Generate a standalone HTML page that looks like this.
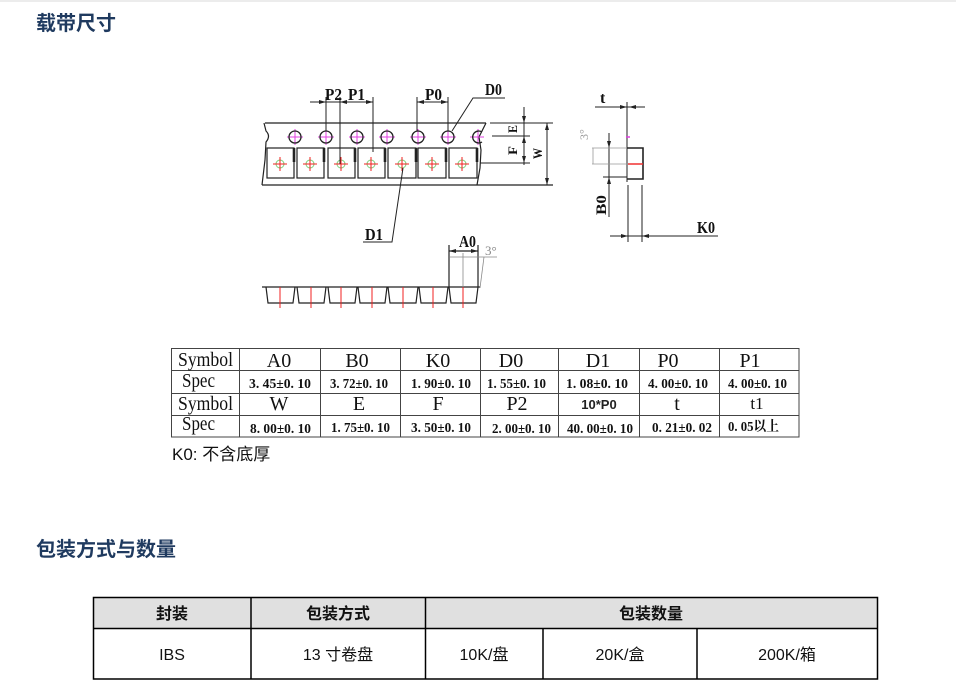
<!DOCTYPE html>
<html><head><meta charset="utf-8">
<style>
html,body{margin:0;padding:0;background:#fff;}
body{width:956px;height:689px;overflow:hidden;position:relative;}
svg{position:absolute;left:0;top:0;}
</style></head><body>
<svg width="956" height="689" viewBox="0 0 956 689" xmlns="http://www.w3.org/2000/svg">
<rect x="0" y="0" width="956" height="2" fill="#ececec"/>
<text x="36" y="30" font-family="Liberation Sans, Noto Sans CJK SC, sans-serif" font-size="20" font-weight="bold" fill="#1f3a5f">载带尺寸</text>

<!-- ===== top tape ===== -->
<g fill="none" stroke="#222" stroke-width="1.2">
  <line x1="265" y1="123" x2="486" y2="123"/>
  <path d="M264,123 L266,131 Q271,136 266,142 L265,160 L262,185"/>
  <line x1="262" y1="185" x2="553" y2="185"/>
  <polyline points="486,123 479,137 481,150 480,168 477,185"/>
  <rect x="267" y="148" width="27" height="30"/>
  <rect x="297" y="148" width="27" height="30"/>
  <rect x="328" y="148" width="27" height="30"/>
  <rect x="358" y="148" width="27" height="30"/>
  <rect x="388" y="148" width="28" height="30"/>
  <rect x="418" y="148" width="28" height="30"/>
  <rect x="449" y="148" width="28" height="30"/>
</g>
<g stroke="#222" stroke-width="2.6">
  <line x1="294" y1="148" x2="294" y2="162"/>
  <line x1="324" y1="148" x2="324" y2="162"/>
  <line x1="355" y1="148" x2="355" y2="162"/>
  <line x1="385" y1="148" x2="385" y2="162"/>
  <line x1="416" y1="148" x2="416" y2="162"/>
  <line x1="446" y1="148" x2="446" y2="162"/>
  <line x1="477" y1="148" x2="477" y2="162"/>
</g>
<g stroke="#e040e0" stroke-width="1">
  <path d="M287,137h16M295,129v16 M318,137h16M326,129v16 M349,137h16M357,129v16 M379,137h16M387,129v16 M410,137h16M418,129v16 M440,137h16M448,129v16 M470,137h14M478,129v16"/>
</g>
<g fill="none" stroke="#222" stroke-width="1.3">
  <circle cx="295" cy="137" r="6"/>
  <circle cx="326" cy="137" r="6"/>
  <circle cx="357" cy="137" r="6"/>
  <circle cx="387" cy="137" r="6"/>
  <circle cx="418" cy="137" r="6"/>
  <circle cx="448" cy="137" r="6"/>
  <path d="M482,132 A6,6 0 1 0 482,142"/>
</g>
<g fill="none" stroke="#7ccf7c" stroke-width="1">
  <circle cx="280" cy="164" r="4"/><circle cx="310" cy="164" r="4"/><circle cx="341" cy="164" r="4"/>
  <circle cx="371" cy="164" r="4"/><circle cx="402" cy="164" r="4"/><circle cx="432" cy="164" r="4"/><circle cx="462" cy="164" r="4"/>
</g>
<g stroke="#f02020" stroke-width="1">
  <path d="M273,164h14M280,157v14 M303,164h14M310,157v14 M334,164h14M341,157v14 M364,164h14M371,157v14 M395,164h14M402,157v14 M425,164h14M432,157v14 M455,164h14M462,157v14"/>
</g>

<g stroke="#222" stroke-width="1" fill="none">
  <line x1="310" y1="102" x2="373" y2="102"/>
  <line x1="326" y1="97" x2="326" y2="131"/>
  <line x1="340" y1="97" x2="340" y2="164"/>
  <line x1="373" y1="97" x2="373" y2="152"/>
  <line x1="417" y1="102" x2="448" y2="102"/>
  <line x1="417" y1="97" x2="417" y2="131"/>
  <line x1="448" y1="97" x2="448" y2="131"/>
  <polyline points="505,98 473,98 452,131"/>
  <line x1="490" y1="123" x2="553" y2="123"/>
  <line x1="492" y1="136" x2="530" y2="136"/>
  <line x1="480" y1="163" x2="530" y2="163"/>
  <line x1="524" y1="107" x2="524" y2="165"/>
  <line x1="547" y1="123" x2="547" y2="185"/>
  <polyline points="403,168 392,242 363,242"/>
</g>
<g fill="#222">
  <polygon points="326,102 319,100 319,104"/>
  <polygon points="340,102 347,100 347,104"/>
  <polygon points="373,102 366,100 366,104"/>
  <polygon points="417,102 424,100 424,104"/>
  <polygon points="448,102 441,100 441,104"/>
  <polygon points="524,123 522,116 526,116"/>
  <polygon points="524,136 522,143 526,143"/>
  <polygon points="524,163 522,156 526,156"/>
  <polygon points="547,123 545,130 549,130"/>
  <polygon points="547,185 545,178 549,178"/>
</g>
<g font-family="Liberation Serif, serif" font-weight="bold" fill="#111" font-size="17">
  <text x="325" y="100" textLength="17" lengthAdjust="spacingAndGlyphs">P2</text>
  <text x="348" y="100" textLength="17" lengthAdjust="spacingAndGlyphs">P1</text>
  <text x="425" y="100" textLength="17" lengthAdjust="spacingAndGlyphs">P0</text>
  <text x="485" y="95" textLength="17" lengthAdjust="spacingAndGlyphs">D0</text>
  <text x="365" y="240" textLength="18" lengthAdjust="spacingAndGlyphs">D1</text>
  <text x="459" y="247" textLength="17" lengthAdjust="spacingAndGlyphs">A0</text>
  <text x="697" y="233" textLength="18" lengthAdjust="spacingAndGlyphs">K0</text>
  <text x="600" y="103" font-size="16">t</text>
  <text transform="translate(517,133) rotate(-90)" font-size="13" textLength="8" lengthAdjust="spacingAndGlyphs">E</text>
  <text transform="translate(517,155) rotate(-90)" font-size="13" textLength="9" lengthAdjust="spacingAndGlyphs">F</text>
  <text transform="translate(542,159) rotate(-90)" font-size="13" textLength="11" lengthAdjust="spacingAndGlyphs">W</text>
  <text transform="translate(606,215) rotate(-90)" font-size="15" textLength="20" lengthAdjust="spacingAndGlyphs">B0</text>
</g>

<g stroke="#222" stroke-width="1" fill="none">
  <line x1="595" y1="107" x2="645" y2="107"/>
  <line x1="627" y1="102" x2="627" y2="182"/>
  <line x1="603" y1="177" x2="627" y2="177"/>
  <line x1="609" y1="133" x2="609" y2="217"/>
  <line x1="628" y1="185" x2="628" y2="242"/>
  <line x1="642" y1="185" x2="642" y2="242"/>
  <line x1="610" y1="236" x2="718" y2="236"/>
</g>
<polyline points="627,148 643,148 643,179 627,179" fill="none" stroke="#222" stroke-width="1.6"/>
<line x1="628" y1="164" x2="643" y2="164" stroke="#f03030" stroke-width="1.5"/>
<line x1="626" y1="137" x2="630" y2="137" stroke="#e040e0" stroke-width="1.5"/>
<g stroke="#999" stroke-width="0.8" fill="none">
  <line x1="592" y1="148" x2="627" y2="148"/>
  <line x1="592" y1="164" x2="627" y2="164"/>
  <line x1="593" y1="148" x2="593" y2="164"/>
</g>
<text transform="translate(588,140) rotate(-90)" font-family="Liberation Serif, serif" font-size="12" fill="#999">3°</text>
<g fill="#222">
  <polygon points="627,107 620,105 620,109"/>
  <polygon points="629,107 636,105 636,109"/>
  <polygon points="609,148 607,141 611,141"/>
  <polygon points="609,177 607,184 611,184"/>
  <polygon points="628,236 621,234 621,238"/>
  <polygon points="642,236 649,234 649,238"/>
</g>

<g stroke="#222" stroke-width="1.2" fill="none">
  <line x1="262" y1="287" x2="480" y2="287"/>
  <polyline points="266,287 268,303 293,303 295,287"/>
  <polyline points="297,287 299,303 324,303 326,287"/>
  <polyline points="328,287 330,303 355,303 357,287"/>
  <polyline points="358,287 360,303 385,303 387,287"/>
  <polyline points="388,287 390,303 416,303 418,287"/>
  <polyline points="419,287 421,303 446,303 448,287"/>
  <polyline points="449,287 451,303 476,303 478,287"/>
  <line x1="449" y1="245" x2="449" y2="287"/>
  <line x1="478" y1="245" x2="478" y2="287"/>
  <line x1="449" y1="251" x2="478" y2="251"/>
</g>
<g stroke="#f02020" stroke-width="1">
  <path d="M280,287v21M311,287v21M341,287v21M372,287v21M403,287v21M433,287v21M463,287v21"/>
</g>
<g stroke="#888" stroke-width="0.8" fill="none">
  <line x1="463" y1="253" x2="463" y2="287"/>
  <line x1="450" y1="257" x2="497" y2="257"/>
  <line x1="480" y1="288" x2="484" y2="257"/>
</g>
<text x="485" y="255" font-family="Liberation Serif, serif" font-size="13" fill="#888">3°</text>
<g fill="#222">
  <polygon points="449,251 456,249 456,253"/>
  <polygon points="478,251 471,249 471,253"/>
</g>

<g stroke="#444" stroke-width="1" fill="none">
  <rect x="171.5" y="348.5" width="627.5" height="88.5"/>
  <line x1="171" y1="370.5" x2="799" y2="370.5"/>
  <line x1="171" y1="393.5" x2="799" y2="393.5"/>
  <line x1="171" y1="415.5" x2="799" y2="415.5"/>
  <line x1="239.5" y1="348" x2="239.5" y2="437"/>
  <line x1="320.5" y1="348" x2="320.5" y2="437"/>
  <line x1="400.5" y1="348" x2="400.5" y2="437"/>
  <line x1="480.5" y1="348" x2="480.5" y2="437"/>
  <line x1="558.5" y1="348" x2="558.5" y2="437"/>
  <line x1="639.5" y1="348" x2="639.5" y2="437"/>
  <line x1="719.5" y1="348" x2="719.5" y2="437"/>
</g>
<g font-family="Liberation Serif, serif" fill="#111" font-size="20">
  <text x="178" y="366" textLength="55" lengthAdjust="spacingAndGlyphs">Symbol</text>
  <text x="182" y="387" textLength="33" lengthAdjust="spacingAndGlyphs">Spec</text>
  <text x="178" y="410" textLength="55" lengthAdjust="spacingAndGlyphs">Symbol</text>
  <text x="182" y="430" textLength="33" lengthAdjust="spacingAndGlyphs">Spec</text>
  <g text-anchor="middle">
    <text x="279" y="367">A0</text>
    <text x="357" y="367">B0</text>
    <text x="438" y="367">K0</text>
    <text x="511" y="367">D0</text>
    <text x="598" y="367">D1</text>
    <text x="668" y="367">P0</text>
    <text x="750" y="367">P1</text>
    <text x="279" y="410">W</text>
    <text x="359" y="410">E</text>
    <text x="438" y="410">F</text>
    <text x="517" y="410">P2</text>
    <text x="677" y="410">t</text>
    <text x="757" y="409" font-size="17">t1</text>
  </g>
  <text x="599" y="409" text-anchor="middle" font-family="Liberation Sans, sans-serif" font-size="13" font-weight="bold" fill="#222">10*P0</text>
</g>
<g font-family="Liberation Serif, Noto Serif CJK SC, serif" font-weight="bold" fill="#111" font-size="14">
  <text x="249" y="388" textLength="62" lengthAdjust="spacingAndGlyphs">3. 45±0. 10</text>
  <text x="330" y="388" textLength="58" lengthAdjust="spacingAndGlyphs">3. 72±0. 10</text>
  <text x="411" y="388" textLength="60" lengthAdjust="spacingAndGlyphs">1. 90±0. 10</text>
  <text x="487" y="388" textLength="59" lengthAdjust="spacingAndGlyphs">1. 55±0. 10</text>
  <text x="566" y="388" textLength="62" lengthAdjust="spacingAndGlyphs">1. 08±0. 10</text>
  <text x="648" y="388" textLength="60" lengthAdjust="spacingAndGlyphs">4. 00±0. 10</text>
  <text x="728" y="388" textLength="59" lengthAdjust="spacingAndGlyphs">4. 00±0. 10</text>
  <text x="250" y="433" textLength="61" lengthAdjust="spacingAndGlyphs">8. 00±0. 10</text>
  <text x="331" y="432" textLength="59" lengthAdjust="spacingAndGlyphs">1. 75±0. 10</text>
  <text x="411" y="432" textLength="60" lengthAdjust="spacingAndGlyphs">3. 50±0. 10</text>
  <text x="492" y="433" textLength="59" lengthAdjust="spacingAndGlyphs">2. 00±0. 10</text>
  <text x="567" y="433" textLength="66" lengthAdjust="spacingAndGlyphs">40. 00±0. 10</text>
  <text x="652" y="432" textLength="60" lengthAdjust="spacingAndGlyphs">0. 21±0. 02</text>
  <text x="728" y="431" textLength="51" lengthAdjust="spacingAndGlyphs">0. 05以上</text>
</g>
<text x="172" y="460" font-family="Liberation Sans, Noto Sans CJK SC, sans-serif" font-size="17" fill="#111">K0: 不含底厚</text>

<text x="36" y="556" font-family="Liberation Sans, Noto Sans CJK SC, sans-serif" font-size="20" font-weight="bold" fill="#1f3a5f">包装方式与数量</text>
<rect x="93.5" y="597.5" width="784" height="31" fill="#e0e0e0"/>
<g stroke="#000" stroke-width="1.5" fill="none">
  <rect x="93.5" y="597.5" width="784" height="81.5"/>
  <line x1="93" y1="628.5" x2="878" y2="628.5"/>
  <line x1="251" y1="597" x2="251" y2="679"/>
  <line x1="425.5" y1="597" x2="425.5" y2="679"/>
  <line x1="543" y1="628" x2="543" y2="679"/>
  <line x1="697" y1="628" x2="697" y2="679"/>
</g>
<g font-family="Liberation Sans, Noto Sans CJK SC, sans-serif" font-size="16" fill="#111" text-anchor="middle">
  <g font-weight="bold">
    <text x="172" y="619">封装</text>
    <text x="338" y="619">包装方式</text>
    <text x="651" y="619">包装数量</text>
  </g>
  <text x="172" y="660">IBS</text>
  <text x="338" y="660">13 寸卷盘</text>
  <text x="484" y="660">10K/盘</text>
  <text x="620" y="660">20K/盒</text>
  <text x="787" y="660">200K/箱</text>
</g>
</svg>
</body></html>
